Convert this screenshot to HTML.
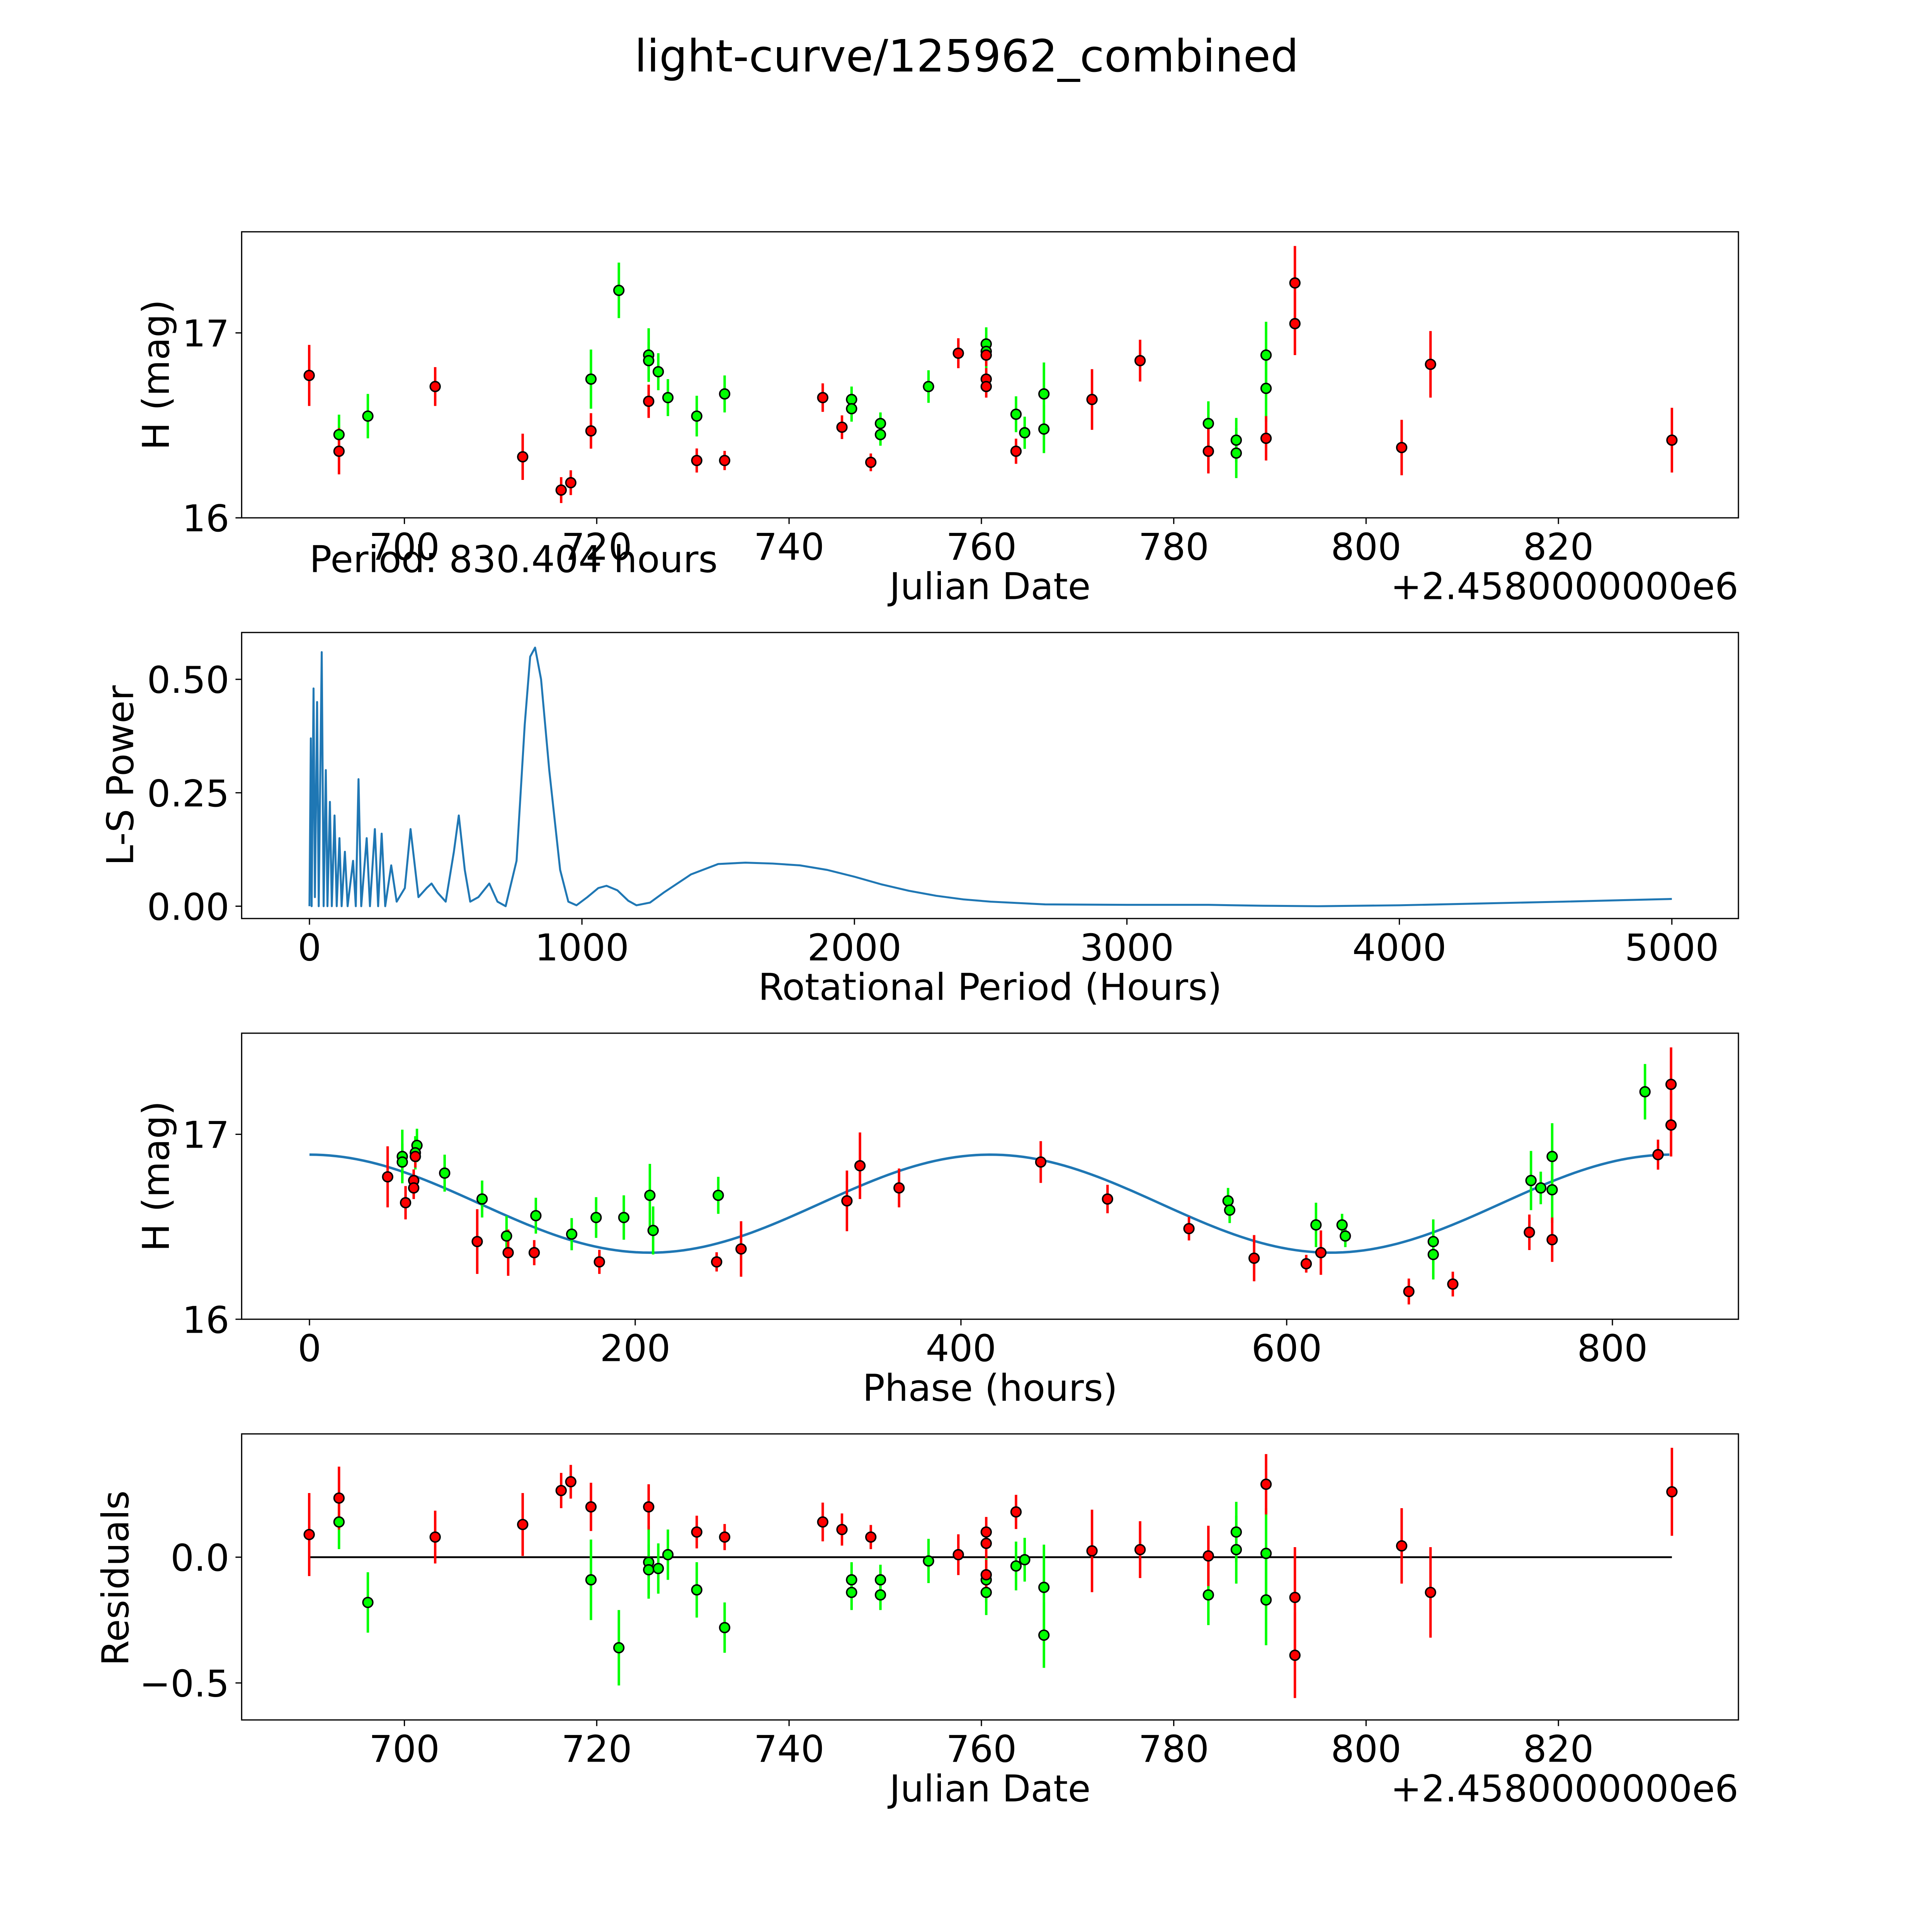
<!DOCTYPE html>
<html><head><meta charset="utf-8"><style>
html,body{margin:0;padding:0;background:#fff;overflow:hidden;width:100%;height:100%}
svg{display:block;position:absolute;left:0;top:0;width:100vw;height:100vh}
text{font-family:"DejaVu Sans","Liberation Sans",sans-serif;fill:#000}
</style></head><body>
<svg id="fig" xmlns="http://www.w3.org/2000/svg" viewBox="0 0 1567 1567" preserveAspectRatio="none">
<rect x="0" y="0" width="1567" height="1567" fill="#fff"/>
<text x="784" y="58" font-size="36" text-anchor="middle">light-curve/125962_combined</text>
<g id="p1"></g>
<g id="p2"></g>
<g id="p3"></g>
<g id="p4"></g>
</svg>
<script>
// observation data
const dates = [690.1,693.2,693.2,696.2,703.2,712.3,716.3,717.3,719.4,719.4,722.3,725.4,725.4,725.4,726.4,727.4,730.4,730.4,733.3,733.3,743.5,745.5,746.5,746.5,748.5,749.5,749.5,754.5,757.6,760.5,760.5,760.5,760.5,760.5,763.6,763.6,764.5,766.5,766.5,771.5,776.5,783.6,783.6,786.5,786.5,789.6,789.6,789.6,792.6,792.6,803.7,806.7,831.8];
const mags = [16.77,16.45,16.36,16.55,16.71,16.33,16.15,16.19,16.47,16.75,17.23,16.88,16.85,16.63,16.79,16.65,16.55,16.31,16.67,16.31,16.65,16.49,16.64,16.59,16.30,16.51,16.45,16.71,16.89,16.94,16.90,16.88,16.75,16.71,16.56,16.36,16.46,16.67,16.48,16.64,16.85,16.51,16.36,16.42,16.35,16.88,16.70,16.43,17.27,17.05,16.38,16.83,16.42];
const errs = [0.165,0.108,0.125,0.12,0.105,0.125,0.07,0.067,0.096,0.16,0.15,0.145,0.1,0.09,0.1,0.1,0.11,0.065,0.1,0.052,0.077,0.064,0.07,0.07,0.048,0.06,0.06,0.088,0.081,0.09,0.09,0.06,0.06,0.06,0.097,0.068,0.087,0.17,0.13,0.164,0.113,0.12,0.12,0.12,0.135,0.18,0.18,0.12,0.2,0.17,0.15,0.18,0.175];
const bands = ['r','g','r','g','r','r','r','r','r','g','g','g','g','r','g','g','g','r','g','r','r','r','g','g','r','g','g','g','r','g','g','r','r','r','g','r','g','g','g','r','r','g','r','g','g','g','g','r','r','r','r','r','r'];
const phases = [48,121,122,193,362,580,675,702,749,750,820,57,57,59,83,106,176,178,251,250,490,540,564,565,612,634,636,756,828,66,65,65,64,64,139,138,161,209,211,330,449,618,621,690,690,763,763,763,836,836,265,338,103];
const resids = [0.09,0.14,0.235,-0.18,0.08,0.13,0.265,0.30,0.20,-0.09,-0.36,-0.02,-0.05,0.20,-0.045,0.01,-0.13,0.10,-0.28,0.08,0.14,0.11,-0.09,-0.14,0.08,-0.09,-0.15,-0.015,0.01,-0.09,-0.14,0.10,0.055,-0.07,-0.035,0.18,-0.01,-0.12,-0.31,0.025,0.03,-0.15,0.005,0.10,0.03,0.015,-0.17,0.29,-0.16,-0.39,0.045,-0.14,0.26];
// periodogram
const lsPeriods = [0,5,8,15,20,28,34,45,52,60,66,75,82,92,100,110,118,130,140,160,170,180,190,210,222,240,252,265,278,300,320,340,350,371,400,430,448,470,500,530,548,570,590,620,660,690,720,760,790,810,828,850,880,920,950,980,1020,1060,1090,1130,1170,1200,1250,1300,1400,1500,1600,1700,1800,1900,2000,2100,2200,2300,2400,2500,2700,3000,3300,3500,3700,4000,4300,4600,5000];
const lsPower = [0,0.37,0,0.48,0.02,0.45,0,0.56,0,0.3,0,0.23,0,0.2,0,0.15,0,0.12,0,0.1,0,0.28,0,0.15,0,0.17,0,0.16,0,0.09,0.01,0.03,0.04,0.17,0.02,0.04,0.05,0.03,0.01,0.12,0.2,0.08,0.01,0.02,0.05,0.01,0,0.1,0.4,0.55,0.57,0.5,0.3,0.08,0.01,0.002,0.02,0.04,0.045,0.035,0.012,0.002,0.008,0.03,0.07,0.093,0.096,0.094,0.09,0.08,0.065,0.048,0.034,0.023,0.015,0.01,0.004,0.003,0.003,0.001,0,0.002,0.006,0.01,0.016];
// fit model
const fitMean = 16.625, fitAmp = 0.265, fitPeriod = 418, fitMaxPhase = 835;
// tick labels
const dateTicks = [700,720,740,760,780,800,820];
const magTicks = [16,17];
const lsXTicks = [0,1000,2000,3000,4000,5000];
const lsYTicks = [0,0.25,0.5];
const lsYLabels = ['0.00','0.25','0.50'];
const phaseTicks = [0,200,400,600,800];
const resTicks = [0,-0.5];
const resLabels = ['0.0','\u22120.5'];

const NS='http://www.w3.org/2000/svg';
function mk(parent,tag,attrs,txt){const e=document.createElementNS(NS,tag);for(const k in attrs)e.setAttribute(k,attrs[k]);if(txt!==undefined)e.textContent=txt;parent.appendChild(e);return e;}
const L=196,R=1410;
const FS=30;
const xDate=d=>328+(d-700)*7.8;
const p1=document.getElementById('p1'),p2=document.getElementById('p2'),p3=document.getElementById('p3'),p4=document.getElementById('p4');
const y1=m=>420-(m-16)*150;
const xP=p=>251+p*0.221, yP=v=>735-v*368;
const xPh=p=>251+p*1.321, y3=m=>1070-(m-16)*150;
const y4=r=>1263-r*204;
const COL={r:'#ff0000',g:'#00ff00'};

function frame(g,top){
  const f=mk(g,'rect',{x:L,y:top,width:R-L,height:232,fill:'none',stroke:'#000','stroke-width':1});
  
  
}
function xticks(g,vals,labels,fx,bottom){
  vals.forEach((v,i)=>{const x=fx(v);
    const t=mk(g,'line',{x1:x,y1:bottom,x2:x,y2:bottom+5,stroke:'#000','stroke-width':1});
    
    
    const l=mk(g,'text',{x:x,y:bottom+34,'font-size':FS,'text-anchor':'middle'},labels[i]);
    
    });
}
function yticks(g,vals,labels,fy){
  vals.forEach((v,i)=>{const y=fy(v);
    const t=mk(g,'line',{x1:L-5,y1:y,x2:L,y2:y,stroke:'#000','stroke-width':1});
    
    
    const l=mk(g,'text',{x:L-10,y:y+11,'font-size':FS,'text-anchor':'end'},labels[i]);
    
    });
}
function label(g,txt,x,y,rot,name){
  const a={x:x,y:y,'font-size':FS,'text-anchor':'middle'};
  if(rot)a.transform='rotate(-90 '+x+' '+y+')';
  const l=mk(g,'text',a,txt);
  
  
}
function points(g,fx,fy,xs,ys,es){
  for(let i=0;i<xs.length;i++){
    const x=fx(xs[i]),c=COL[bands[i]];
    const e=mk(g,'line',{x1:x,y1:fy(ys[i]+es[i]),x2:x,y2:fy(ys[i]-es[i]),stroke:c,'stroke-width':2});
    
    
  }
  for(let i=0;i<xs.length;i++){
    const p=mk(g,'circle',{cx:fx(xs[i]),cy:fy(ys[i]),r:4,fill:COL[bands[i]],stroke:'#000','stroke-width':1.2});
    
    
  }
}

// Panel 1
frame(p1,188);
points(p1,xDate,y1,dates,mags,errs);
xticks(p1,dateTicks,dateTicks.map(String),xDate,420);
yticks(p1,magTicks,magTicks.map(String),y1);
label(p1,'Julian Date',803,486,false,'x-axis-title');
label(p1,'H (mag)',137,304,true,'y-axis-title');
let o=mk(p1,'text',{x:R,y:486,'font-size':FS,'text-anchor':'end'},'+2.4580000000e6');


o=mk(p1,'text',{x:251,y:464,'font-size':FS},'Period: 830.404 hours');



// Panel 2
frame(p2,513);
let d='';lsPeriods.forEach((p,i)=>{d+=(i?'L':'M')+xP(p).toFixed(2)+' '+yP(lsPower[i]).toFixed(2);});
o=mk(p2,'path',{d:d,fill:'none',stroke:'#1f77b4','stroke-width':1.6,'stroke-linejoin':'round'});


xticks(p2,lsXTicks,lsXTicks.map(String),xP,745);
yticks(p2,lsYTicks,lsYLabels,yP);
label(p2,'Rotational Period (Hours)',803,811,false,'x-axis-title');
label(p2,'L-S Power',108,629,true,'y-axis-title');

// Panel 3
frame(p3,838);
d='';for(let k=0;k<=200;k++){const ph=fitMaxPhase*k/200;const m=fitMean+fitAmp*Math.cos(2*Math.PI*ph/fitPeriod);d+=(k?'L':'M')+xPh(ph).toFixed(2)+' '+y3(m).toFixed(2);}
o=mk(p3,'path',{d:d,fill:'none',stroke:'#1f77b4','stroke-width':2});


points(p3,xPh,y3,phases,mags,errs);
xticks(p3,phaseTicks,phaseTicks.map(String),xPh,1070);
yticks(p3,magTicks,magTicks.map(String),y3);
label(p3,'Phase (hours)',803,1136,false,'x-axis-title');
label(p3,'H (mag)',137,954,true,'y-axis-title');

// Panel 4
frame(p4,1163);
o=mk(p4,'line',{x1:xDate(dates[0]),y1:y4(0),x2:xDate(dates[dates.length-1]),y2:y4(0),stroke:'#000','stroke-width':1.5});


points(p4,xDate,y4,dates,resids,errs);
xticks(p4,dateTicks,dateTicks.map(String),xDate,1395);
yticks(p4,resTicks,resLabels,y4);
label(p4,'Julian Date',803,1461,false,'x-axis-title');
label(p4,'Residuals',104,1280,true,'y-axis-title');
o=mk(p4,'text',{x:R,y:1461,'font-size':FS,'text-anchor':'end'},'+2.4580000000e6');


</script>
</body></html>
